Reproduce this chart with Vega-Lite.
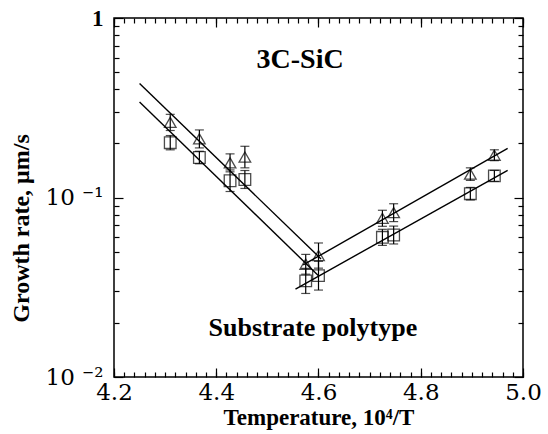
{
  "$schema": "https://vega.github.io/schema/vega-lite/v6.json",
  "width": 409,
  "height": 359,
  "autosize": "none",
  "padding": {"left": 114, "top": 18, "right": 25, "bottom": 57},
  "background": "white",
  "view": {"stroke": "black", "strokeWidth": 1.5},
  "config": {
    "axis": {"domain": false, "grid": false, "tickColor": "black", "tickWidth": 1.2, "labelColor": "black", "labelFont": "DejaVu Serif", "labelFontSize": 23, "titleColor": "black", "titleFont": "Liberation Serif", "titleFontWeight": "bold", "titleFontSize": 23}
  },
  "datasets": {
    "pts": [
      {"x": 4.310, "y": 0.262, "lo": 0.2362, "hi": 0.2906, "series": "tri"},
      {"x": 4.310, "y": 0.202, "lo": 0.1843, "hi": 0.2214, "series": "sq"},
      {"x": 4.367, "y": 0.212, "lo": 0.1889, "hi": 0.2379, "series": "tri"},
      {"x": 4.367, "y": 0.167, "lo": 0.1541, "hi": 0.1810, "series": "sq"},
      {"x": 4.427, "y": 0.156, "lo": 0.1390, "hi": 0.1750, "series": "tri"},
      {"x": 4.427, "y": 0.124, "lo": 0.1080, "hi": 0.1424, "series": "sq"},
      {"x": 4.456, "y": 0.168, "lo": 0.1463, "hi": 0.1929, "series": "tri"},
      {"x": 4.456, "y": 0.126, "lo": 0.1123, "hi": 0.1414, "series": "sq"},
      {"x": 4.575, "y": 0.0425, "lo": 0.0374, "hi": 0.0482, "series": "tri"},
      {"x": 4.575, "y": 0.0343, "lo": 0.0292, "hi": 0.0403, "series": "sq"},
      {"x": 4.600, "y": 0.0475, "lo": 0.0404, "hi": 0.0558, "series": "tri"},
      {"x": 4.600, "y": 0.0367, "lo": 0.0305, "hi": 0.0441, "series": "sq"},
      {"x": 4.725, "y": 0.0766, "lo": 0.0691, "hi": 0.0849, "series": "tri"},
      {"x": 4.725, "y": 0.0600, "lo": 0.0541, "hi": 0.0665, "series": "sq"},
      {"x": 4.747, "y": 0.0823, "lo": 0.0734, "hi": 0.0923, "series": "tri"},
      {"x": 4.747, "y": 0.0618, "lo": 0.0551, "hi": 0.0693, "series": "sq"},
      {"x": 4.897, "y": 0.135, "lo": 0.1245, "hi": 0.1463, "series": "tri"},
      {"x": 4.897, "y": 0.105, "lo": 0.0969, "hi": 0.1138, "series": "sq"},
      {"x": 4.944, "y": 0.172, "lo": 0.1604, "hi": 0.1844, "series": "tri"},
      {"x": 4.944, "y": 0.132, "lo": 0.1231, "hi": 0.1415, "series": "sq"}
    ],
    "fits": [
      {"seg": "upper-left", "x": 4.25, "y": 0.431},
      {"seg": "upper-left", "x": 4.605, "y": 0.0455},
      {"seg": "upper-right", "x": 4.57, "y": 0.0421},
      {"seg": "upper-right", "x": 4.97, "y": 0.1876},
      {"seg": "lower-left", "x": 4.25, "y": 0.340},
      {"seg": "lower-left", "x": 4.60, "y": 0.0367},
      {"seg": "lower-right", "x": 4.555, "y": 0.0309},
      {"seg": "lower-right", "x": 4.97, "y": 0.1417}
    ],
    "title1": [{"x": 4.564, "y": 0.583, "label": "3C-SiC"}],
    "title2": [{"x": 4.589, "y": 0.0188, "label": "Substrate polytype"}]
  },
  "resolve": {"scale": {"x": "shared", "y": "shared"}, "axis": {"x": "independent", "y": "independent"}},
  "layer": [
    {
      "data": {"name": "fits"},
      "mark": {"type": "line", "color": "black", "strokeWidth": 1.4},
      "encoding": {
        "x": {"field": "x", "type": "quantitative", "scale": {"domain": [4.2, 5.0], "nice": false, "zero": false},
              "axis": {"orient": "bottom", "values": [4.2, 4.4, 4.6, 4.8, 5.0], "tickSize": -9, "labelExpr": "format(datum.value, '.1f')", "labelPadding": 13, "labelFlush": false, "title": "Temperature, 10⁴/T", "titlePadding": 2}},
        "y": {"field": "y", "type": "quantitative", "scale": {"type": "log", "domain": [0.01, 1], "nice": false},
              "axis": {"orient": "left", "values": [0.01, 0.1, 1], "tickSize": -9, "labelExpr": "datum.value >= 0.99 ? '1\u00a0' : datum.value >= 0.099 ? '10 ⁻¹' : '10 ⁻²'", "labelFont": {"condition": {"test": "datum.value >= 0.99", "value": "Liberation Serif"}, "value": "DejaVu Serif"}, "labelFontWeight": {"condition": {"test": "datum.value >= 0.99", "value": "bold"}, "value": "normal"}, "labelPadding": 20, "labelFlush": false, "title": "Growth rate, μm/s", "titleFontSize": 24, "titleY": 210, "titlePadding": 12}},
        "detail": {"field": "seg"}
      }
    },
    {
      "data": {"name": "pts"},
      "mark": {"type": "rule", "color": "black", "strokeWidth": 1.2},
      "encoding": {
        "x": {"field": "x", "type": "quantitative", "scale": {"domain": [4.2, 5.0], "nice": false, "zero": false},
              "axis": {"orient": "bottom", "values": [4.2,4.22,4.24,4.26,4.28,4.3,4.32,4.34,4.36,4.38,4.4,4.42,4.44,4.46,4.48,4.5,4.52,4.54,4.56,4.58,4.6,4.62,4.64,4.66,4.68,4.7,4.72,4.74,4.76,4.78,4.8,4.82,4.84,4.86,4.88,4.9,4.92,4.94,4.96,4.98,5.0], "tickSize": -5, "labels": false, "title": null}},
        "y": {"field": "lo", "type": "quantitative", "scale": {"type": "log", "domain": [0.01, 1], "nice": false},
              "axis": {"orient": "left", "values": [0.02,0.03,0.04,0.05,0.06,0.07,0.08,0.09,0.2,0.3,0.4,0.5,0.6,0.7,0.8,0.9], "tickSize": -5, "labels": false, "title": null}},
        "y2": {"field": "hi"}
      }
    },
    {
      "data": {"name": "pts"},
      "mark": {"type": "tick", "orient": "horizontal", "color": "black", "size": 9, "thickness": 1.2},
      "encoding": {
        "x": {"field": "x", "type": "quantitative", "scale": {"domain": [4.2, 5.0], "nice": false, "zero": false},
              "axis": {"orient": "top", "values": [4.2, 4.4, 4.6, 4.8, 5.0], "tickSize": -9, "labels": false, "title": null}},
        "y": {"field": "hi", "type": "quantitative", "scale": {"type": "log", "domain": [0.01, 1], "nice": false},
              "axis": {"orient": "right", "values": [0.01, 0.1, 1], "tickSize": -9, "labels": false, "title": null}}
      }
    },
    {
      "data": {"name": "pts"},
      "mark": {"type": "tick", "orient": "horizontal", "color": "black", "size": 9, "thickness": 1.2},
      "encoding": {
        "x": {"field": "x", "type": "quantitative", "scale": {"domain": [4.2, 5.0], "nice": false, "zero": false},
              "axis": {"orient": "top", "values": [4.2,4.22,4.24,4.26,4.28,4.3,4.32,4.34,4.36,4.38,4.4,4.42,4.44,4.46,4.48,4.5,4.52,4.54,4.56,4.58,4.6,4.62,4.64,4.66,4.68,4.7,4.72,4.74,4.76,4.78,4.8,4.82,4.84,4.86,4.88,4.9,4.92,4.94,4.96,4.98,5.0], "tickSize": -5, "labels": false, "title": null}},
        "y": {"field": "lo", "type": "quantitative", "scale": {"type": "log", "domain": [0.01, 1], "nice": false},
              "axis": {"orient": "right", "values": [0.02,0.03,0.04,0.05,0.06,0.07,0.08,0.09,0.2,0.3,0.4,0.5,0.6,0.7,0.8,0.9], "tickSize": -5, "labels": false, "title": null}}
      }
    },
    {
      "data": {"name": "pts"},
      "mark": {"type": "point", "filled": false, "color": "black", "strokeWidth": 1.3, "size": 135},
      "encoding": {
        "x": {"field": "x", "type": "quantitative", "scale": {"domain": [4.2, 5.0], "nice": false, "zero": false}, "axis": null},
        "y": {"field": "y", "type": "quantitative", "scale": {"type": "log", "domain": [0.01, 1], "nice": false}, "axis": null},
        "shape": {"field": "series", "type": "nominal", "scale": {"domain": ["tri", "sq"], "range": ["triangle-up", "square"]}, "legend": null}
      }
    },
    {
      "data": {"name": "title1"},
      "mark": {"type": "text", "font": "Liberation Serif", "fontWeight": "bold", "fontSize": 28, "color": "black", "align": "center", "baseline": "middle"},
      "encoding": {
        "x": {"field": "x", "type": "quantitative", "scale": {"domain": [4.2, 5.0], "nice": false, "zero": false}, "axis": null},
        "y": {"field": "y", "type": "quantitative", "scale": {"type": "log", "domain": [0.01, 1], "nice": false}, "axis": null},
        "text": {"field": "label"}
      }
    },
    {
      "data": {"name": "title2"},
      "mark": {"type": "text", "font": "Liberation Serif", "fontWeight": "bold", "fontSize": 26, "color": "black", "align": "center", "baseline": "middle"},
      "encoding": {
        "x": {"field": "x", "type": "quantitative", "scale": {"domain": [4.2, 5.0], "nice": false, "zero": false}, "axis": null},
        "y": {"field": "y", "type": "quantitative", "scale": {"type": "log", "domain": [0.01, 1], "nice": false}, "axis": null},
        "text": {"field": "label"}
      }
    }
  ]
}
